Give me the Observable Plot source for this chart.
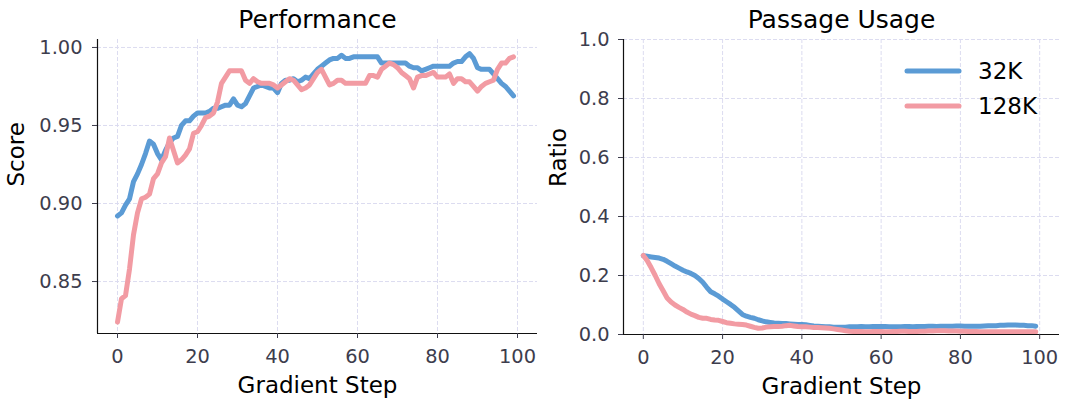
<!DOCTYPE html>
<html><head><meta charset="utf-8">
<script src="https://cdn.jsdelivr.net/npm/d3@7"></script>
<script src="https://cdn.jsdelivr.net/npm/@observablehq/plot@0.6"></script>
<style>
body{margin:0;background:#fff;font-family:"DejaVu Sans",sans-serif;}
#wrap{position:relative;width:1068px;height:399px;display:flex;overflow:hidden;}
#left{width:540px;height:399px;}
#right{width:528px;height:399px;}
#legend{position:absolute;left:900px;top:50px;}
</style></head><body>
<div id="wrap"><div id="left"></div><div id="right"></div>
<svg id="legend" width="160" height="80"></svg></div>
<script>
const seriesNames = ["32K", "128K"];
const seriesColors = ["#5b9bd5", "#f29ba3"];
const xTicks = [0, 20, 40, 60, 80, 100];
const perfTicks = [0.85, 0.90, 0.95, 1.00];
const usageTicks = [0, 0.2, 0.4, 0.6, 0.8, 1.0];

// Performance (Score) per gradient step 0..99
const perf32 = [
0.892,0.894,0.899,0.903,0.914,0.919,0.925,0.932,0.940,0.938,
0.932,0.928,0.934,0.939,0.942,0.943,0.950,0.953,0.953,0.956,
0.958,0.958,0.958,0.959,0.961,0.961,0.962,0.963,0.963,0.967,
0.963,0.962,0.964,0.969,0.974,0.975,0.976,0.975,0.974,0.974,
0.971,0.977,0.979,0.979,0.980,0.978,0.979,0.981,0.980,0.983,
0.986,0.988,0.990,0.992,0.993,0.993,0.995,0.993,0.993,0.994,
0.994,0.994,0.994,0.994,0.994,0.994,0.990,0.990,0.990,0.990,
0.990,0.990,0.990,0.988,0.987,0.987,0.985,0.986,0.987,0.988,
0.988,0.988,0.988,0.988,0.990,0.991,0.991,0.994,0.996,0.993,
0.987,0.986,0.986,0.986,0.983,0.980,0.977,0.975,0.972,0.969];
const perf128 = [
0.824,0.839,0.841,0.858,0.880,0.894,0.903,0.904,0.906,0.916,
0.919,0.926,0.930,0.942,0.934,0.926,0.928,0.931,0.935,0.945,
0.946,0.950,0.955,0.956,0.958,0.965,0.977,0.981,0.985,0.985,
0.985,0.985,0.979,0.977,0.980,0.978,0.977,0.977,0.977,0.976,
0.974,0.976,0.978,0.980,0.979,0.976,0.973,0.974,0.976,0.980,
0.984,0.986,0.981,0.976,0.977,0.979,0.979,0.977,0.977,0.977,
0.977,0.977,0.977,0.982,0.982,0.981,0.986,0.988,0.990,0.989,
0.987,0.984,0.982,0.980,0.974,0.981,0.982,0.982,0.983,0.984,
0.981,0.981,0.981,0.983,0.977,0.980,0.980,0.978,0.978,0.975,
0.972,0.975,0.977,0.978,0.979,0.986,0.990,0.990,0.993,0.994];

// Passage usage ratio per gradient step 0..99
const usage32 = [
0.267,0.265,0.263,0.261,0.259,0.255,0.248,0.240,0.232,0.225,
0.218,0.212,0.207,0.200,0.190,0.177,0.160,0.145,0.138,0.130,
0.120,0.111,0.102,0.092,0.080,0.068,0.062,0.058,0.055,0.050,
0.046,0.043,0.041,0.039,0.038,0.037,0.037,0.036,0.035,0.034,
0.034,0.033,0.031,0.029,0.028,0.027,0.026,0.026,0.025,0.025,
0.025,0.025,0.026,0.026,0.026,0.027,0.026,0.026,0.027,0.027,
0.027,0.027,0.026,0.026,0.026,0.026,0.027,0.027,0.026,0.027,
0.027,0.027,0.028,0.028,0.027,0.028,0.028,0.028,0.028,0.029,
0.029,0.028,0.028,0.028,0.028,0.028,0.029,0.030,0.030,0.030,
0.031,0.031,0.032,0.032,0.032,0.031,0.031,0.030,0.030,0.028];
const usage128 = [
0.268,0.250,0.226,0.200,0.172,0.148,0.124,0.110,0.100,0.092,
0.085,0.076,0.069,0.064,0.058,0.055,0.055,0.051,0.049,0.048,
0.044,0.040,0.038,0.036,0.035,0.034,0.032,0.028,0.024,0.021,
0.022,0.025,0.026,0.027,0.027,0.028,0.030,0.031,0.029,0.027,
0.026,0.026,0.025,0.024,0.024,0.023,0.022,0.021,0.019,0.017,
0.015,0.013,0.011,0.010,0.010,0.010,0.009,0.009,0.010,0.010,
0.010,0.009,0.009,0.010,0.010,0.011,0.011,0.010,0.010,0.010,
0.011,0.011,0.012,0.012,0.013,0.013,0.013,0.012,0.012,0.012,
0.011,0.011,0.010,0.010,0.010,0.009,0.009,0.009,0.009,0.009,
0.009,0.009,0.009,0.009,0.009,0.009,0.009,0.009,0.009,0.009];

function toTable(a, b) {
  return a.map((v, i) => ({step: i, value: v, series: seriesNames[0]}))
    .concat(b.map((v, i) => ({step: i, value: v, series: seriesNames[1]})));
}

const tickColor = "#3d3d4d";
const gridStyle = {stroke: "#dcdcf0", strokeOpacity: 1, strokeWidth: 1, strokeDasharray: "4,2"};
const font = '"DejaVu Sans", sans-serif';

function panel({data, title, ylabel, yDomain, yTicks, yFmt, width, marginLeft, marginRight, marginBottom, ylabelDx, yPad}) {
  return Plot.plot({
    width, height: 399, marginTop: 39, marginBottom, marginLeft, marginRight,
    style: {fontFamily: font, background: "white", overflow: "visible"},
    x: {domain: [-5, 105]},
    y: {domain: yDomain},
    color: {domain: seriesNames, range: seriesColors},
    marks: [
      Plot.gridX(xTicks, gridStyle),
      Plot.gridY(yTicks, gridStyle),
      Plot.line(data, {x: "step", y: "value", z: "series", stroke: "series",
        strokeWidth: 5, strokeLinejoin: "round", strokeLinecap: "round"}),
      Plot.ruleX([yDomain && -5], {stroke: "#111", strokeWidth: 1.2}),
      Plot.ruleY([yDomain[0]], {stroke: "#111", strokeWidth: 1.2}),
      Plot.axisX(xTicks, {tickSize: 5, tickPadding: 11, fontSize: 19.4, label: null,
        color: tickColor, tickFormat: d => String(d)}),
      Plot.axisY(yTicks, {tickSize: 5, tickPadding: yPad, fontSize: 19.4, label: null,
        color: tickColor, tickFormat: yFmt}),
      Plot.text([title], {text: d => d, frameAnchor: "top", lineAnchor: "bottom", dy: -11.5,
        fontSize: 25, fill: "#000"}),
      Plot.text(["Gradient Step"], {text: d => d, frameAnchor: "bottom", lineAnchor: "bottom", dy: 59,
        fontSize: 23, fill: "#000"}),
      Plot.text([ylabel], {text: d => d, frameAnchor: "left", rotate: -90, dx: ylabelDx,
        fontSize: 23, fill: "#000"})
    ]
  });
}

document.getElementById("left").append(panel({
  data: toTable(perf32, perf128), title: "Performance", ylabel: "Score",
  yDomain: [0.8167, 1.0051], yTicks: perfTicks, yFmt: d3.format(".2f"),
  width: 540, marginLeft: 97, marginRight: 3, marginBottom: 66, ylabelDx: -81, yPad: 10
}));
document.getElementById("right").append(panel({
  data: toTable(usage32, usage128), title: "Passage Usage", ylabel: "Ratio",
  yDomain: [0, 1], yTicks: usageTicks, yFmt: d3.format(".1f"),
  width: 528, marginLeft: 83, marginRight: 9, marginBottom: 65, ylabelDx: -65, yPad: 9
}));

// legend
const lg = d3.select("#legend");
seriesNames.forEach((name, i) => {
  const y = 21 + i * 35;
  lg.append("line").attr("x1", 7).attr("x2", 59).attr("y1", y).attr("y2", y)
    .attr("stroke", seriesColors[i]).attr("stroke-width", 5).attr("stroke-linecap", "round");
  lg.append("text").attr("x", 78).attr("y", y + 8).attr("font-size", 23)
    .attr("font-family", font).attr("fill", "#000").text(name);
});
</script>
</body></html>
